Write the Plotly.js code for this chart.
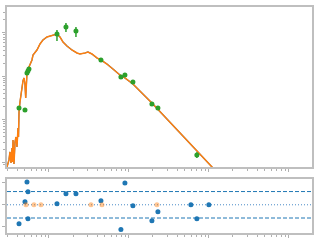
<!DOCTYPE html>
<html>
<head>
<meta charset="utf-8">
<script src="https://cdn.plot.ly/plotly-3.0.1.min.js"></script>
<style>html,body{margin:0;padding:0;background:#fff;}#chart{width:320px;height:240px;}</style>
</head>
<body>
<div id="chart"></div>
<script>
// Model SED (wavelength, flux)
var modelWave = [0.2985,0.307,0.316,0.3255,0.335,0.345,0.350,0.355,0.365,0.376,0.387,0.398,0.410,0.4157,0.422,0.434,0.447,0.460,0.473,0.487,0.501,0.5115,0.5188,0.531,0.562,0.596,0.613,0.631,0.668,0.708,0.772,0.841,0.944,1.029,1.122,1.259,1.372,1.496,1.679,1.939,2.239,2.441,2.818,3.073,3.447,3.981,4.467,5.309,6.310,7.718,8.913,11.22,19.39,37.58,61.32,112.2,183];
var modelFlux = [8.04e-13,9.95e-13,1.17e-12,1.79e-12,9.95e-13,2.21e-12,1.05e-12,3.38e-12,9.44e-13,3.04e-12,3.96e-12,2.33e-12,6.40e-12,3.96e-12,1.50e-11,2.55e-11,3.70e-11,5.97e-11,7.78e-11,9.14e-11,6.64e-11,3.15e-11,7.38e-11,1.19e-10,1.64e-10,2.14e-10,2.38e-10,3.10e-10,3.64e-10,4.05e-10,5.57e-10,6.89e-10,8.09e-10,8.53e-10,9.00e-10,9.48e-10,8.09e-10,6.19e-10,5.01e-10,4.05e-10,3.45e-10,3.27e-10,3.45e-10,3.64e-10,3.27e-10,2.65e-10,2.38e-10,1.92e-10,1.47e-10,1.07e-10,9.14e-11,6.64e-11,2.42e-11,6.75e-12,2.59e-12,8.04e-13,2.93e-13];

// Observed photometry
var obsWave = [0.422,0.501,0.531,0.546,0.562,1.259,1.631,2.175,4.467,7.943,8.913,11.22,19.39,23.05,70.79];
var obsFlux = [1.85e-11,1.67e-11,1.19e-10,1.32e-10,1.47e-10,9.48e-10,1.38e-9,1.11e-9,2.38e-10,9.64e-11,1.07e-10,7.38e-11,2.29e-11,1.85e-11,1.52e-12];
var obsErrPlus = [0,0,0,0,0,2.2e-10,3.2e-10,2.7e-10,0,0,0,0,0,0,2.5e-13];
var obsErrMinus = [0,0,0,0,0,2.95e-10,3.3e-10,3.0e-10,0,0,0,0,0,0,2.2e-13];

// Residuals
var resWave = [0.422,0.531,0.546,0.501,0.546,1.259,1.631,2.175,4.467,8.913,11.22,7.943,19.39,23.05,59.57,70.79,100];
var resValue = [-4.28,5.18,2.93,0.68,-3.15,0.23,2.48,2.48,0.9,4.95,-0.23,-5.63,-3.6,-1.58,0,-3.15,0];
var limWave = [0.516,0.649,0.794,3.350,4.597,22.39];
var limValue = [0,0,0,0,0,0];
var bandLevels = [3,-3];
var centreLevel = 0;

var traces = [
  {x:modelWave, y:modelFlux, mode:'lines', line:{color:'#1f77b4', width:1.2}, xaxis:'x', yaxis:'y', hoverinfo:'none'},
  {x:modelWave, y:modelFlux, mode:'lines', line:{color:'#ff7f0e', width:1.5}, xaxis:'x', yaxis:'y', hoverinfo:'none'},
  {x:obsWave, y:obsFlux, mode:'markers', marker:{color:'#2ca02c', size:5},
   error_y:{type:'data', symmetric:false, array:obsErrPlus, arrayminus:obsErrMinus, color:'#2ca02c', thickness:1.5, width:0},
   xaxis:'x', yaxis:'y'},
  {x:resWave, y:resValue, mode:'markers', marker:{color:'#1f77b4', size:5}, xaxis:'x2', yaxis:'y2'},
  {x:limWave, y:limValue, mode:'markers', marker:{color:'rgba(255,127,14,0.45)', size:5}, xaxis:'x2', yaxis:'y2'}
];

var shapes = [];
bandLevels.forEach(function(v){
  shapes.push({type:'line', xref:'paper', yref:'y2', x0:0, x1:1, y0:v, y1:v, line:{color:'#1f77b4', width:1, dash:'4px,2px'}});
});
shapes.push({type:'line', xref:'paper', yref:'y2', x0:0, x1:1, y0:centreLevel, y1:centreLevel, line:{color:'#4a8cc7', width:1, dash:'1px,2px'}, layer:'below'});

var axCommon = {showticklabels:false, ticks:'outside', ticklen:3, tickwidth:1, tickcolor:'#b0b0b0',
  showline:true, mirror:true, linecolor:'#bfbfbf', linewidth:2, showgrid:false, zeroline:false};

var layout = {
  width:320, height:240,
  margin:{l:7, r:8, t:7, b:7},
  paper_bgcolor:'#fff', plot_bgcolor:'#fff',
  showlegend:false,
  xaxis:Object.assign({}, axCommon, {type:'log', range:[-0.525,3.29], dtick:1, anchor:'y', domain:[0,1],
    minor:{ticks:'outside', ticklen:2, tickcolor:'#b0b0b0', showgrid:false}}),
  yaxis:Object.assign({}, axCommon, {type:'log', range:[-12.095,-8.4], dtick:1, domain:[0.292,1], anchor:'x',
    minor:{ticks:'outside', ticklen:2, tickcolor:'#b0b0b0', showgrid:false}}),
  xaxis2:Object.assign({}, axCommon, {type:'log', range:[-0.525,3.29], dtick:1, anchor:'y2', domain:[0,1], matches:'x',
    minor:{ticks:'outside', ticklen:2, tickcolor:'#b0b0b0', showgrid:false}}),
  yaxis2:Object.assign({}, axCommon, {range:[-6.4,5.85], tickvals:[-5,0,5], domain:[0,0.239], anchor:'x2'}),
  shapes:shapes
};

Plotly.newPlot('chart', traces, layout, {staticPlot:true, displayModeBar:false});
</script>
</body>
</html>
